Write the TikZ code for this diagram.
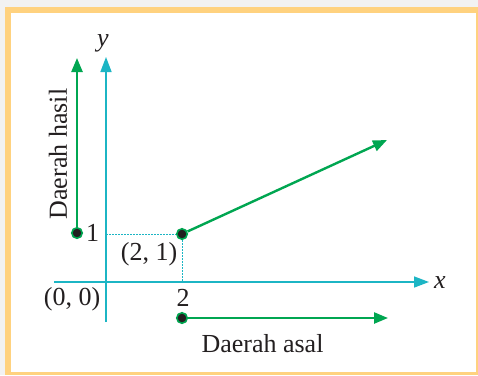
\documentclass[tikz,border=0pt]{standalone}
\usepackage{fontspec}
\setmainfont{Liberation Serif}
\usetikzlibrary{arrows.meta}
\definecolor{frameor}{HTML}{FFD27F}
\definecolor{grn}{HTML}{00A651}
\definecolor{cyn}{HTML}{1CB5C4}
\definecolor{dotblk}{HTML}{231F20}
\definecolor{outergray}{HTML}{F2F2F2}
\begin{document}
\begin{tikzpicture}[x=1pt,y=-1pt,
  txt/.style={font=\fontsize{26}{30}\selectfont, inner sep=0pt, text=dotblk},
  pt/.style={circle, fill=dotblk, draw=grn, line width=1.6pt, minimum size=10.5pt, inner sep=0pt},
  garrow/.style={grn, line width=2.4pt, -{Triangle[length=14pt,width=11pt]}},
  axisline/.style={cyn, line width=1.5pt, -{Triangle[length=15pt,width=11pt]}},
  guide/.style={cyn, line width=0.8pt, dash pattern=on 1.5pt off 1.5pt}]
\fill[outergray] (0,0) rectangle (478,375);
\fill[frameor] (5,7) rectangle (478,375);
\fill[white] (11,13) rectangle (476,372);
\useasboundingbox (0,0) rectangle (478,375);
% axes
\coordinate (xs) at (54,282);
\coordinate (xe) at (429,282);
\coordinate (ys) at (106,322);
\coordinate (ye) at (106,57);
\draw[axisline] (xs) -- (xe);
\draw[axisline] (ys) -- (ye);
\node[txt] (xlab) at (440,283) {\itshape x};
\node[txt] (ylab) at (103,43) {\itshape y};
% guide lines
\coordinate (yone) at (106,234);
\coordinate (xtwo) at (182,282);
\node[pt] (p21) at (182,234) {};
\node[pt] (p1) at (77,233) {};
\node[pt] (p2) at (182,318) {};
\draw[guide] (yone) -- (p21);
\draw[guide] (p21) -- (xtwo);
% arrows
\coordinate (a1) at (77,58);
\coordinate (a2) at (387,140);
\coordinate (a3) at (388,318);
\draw[garrow] (p1) -- (a1);
\draw[garrow] (p21) -- (a2);
\draw[garrow] (p2) -- (a3);
% labels
\node[txt] (lone) at (92.5,233) {1};
\node[txt] (l21) at (149,254) {(2, 1)};
\node[txt] (l00) at (72,299) {(0, 0)};
\node[txt] (ltwo) at (183,298) {2};
\node[txt] (asal) at (262.5,343.5) {Daerah asal};
\node[txt, rotate=90] (hasil) at (58,154) {Daerah hasil};
\end{tikzpicture}
\end{document}
